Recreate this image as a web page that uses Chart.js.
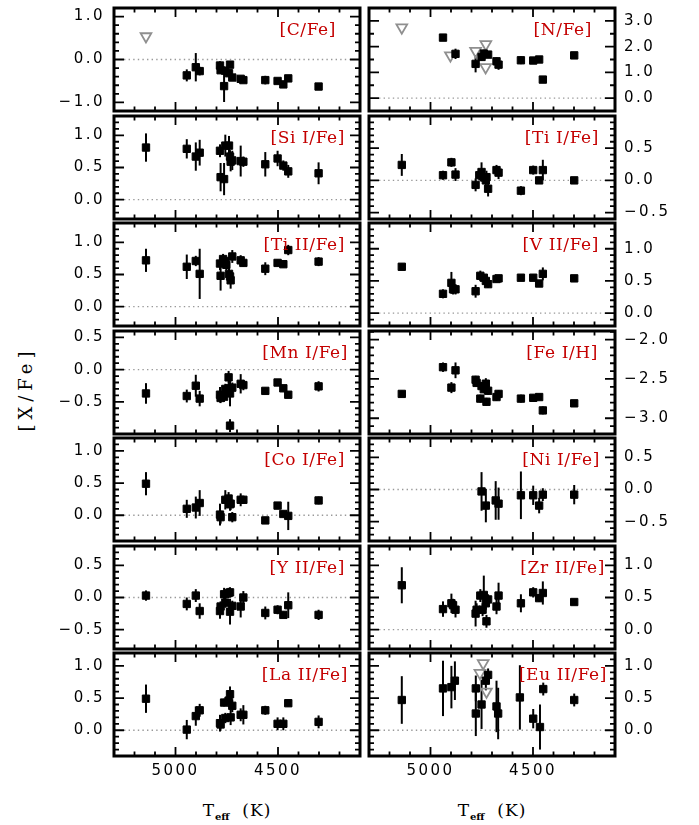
<!DOCTYPE html>
<html>
<head>
<meta charset="utf-8">
<script src="https://cdn.jsdelivr.net/npm/chart.js@4.4.1/dist/chart.umd.min.js"></script>
<style>
  html, body { margin: 0; padding: 0; background: #fff; }
  body { width: 699px; height: 825px; position: relative; overflow: hidden; }
  canvas { position: absolute; }
  .ytitle { position: absolute; left: 25px; top: 389px; transform: translate(-50%, -50%) rotate(-90deg);
            font: 18px "DejaVu Serif"; letter-spacing: 5px; white-space: nowrap; color: #000; }
  .xtitle { position: absolute; top: 800px; width: 200px; margin-left: -100px; text-align: center;
            font: 17px "DejaVu Serif"; line-height: 20px; letter-spacing: 1px; color: #000; white-space: nowrap; }
  .xtitle span { font-size: 10px; font-weight: bold; position: relative; top: 4px; letter-spacing: 0; }
</style>
</head>
<body>
<div class="ytitle">[X/Fe]</div>
<div class="xtitle" style="left:237px">T<span>eff</span>&nbsp; (K)</div>
<div class="xtitle" style="left:492px">T<span>eff</span>&nbsp; (K)</div>
<script>
// ---- data: [Teff, value, error]; limits: [Teff, value] ----
const xTicks = [5000, 4500];

const cFeTicks = [-1, 0, 1];
const cFeLim = [[5144, 0.54]];
const cFe = [
  [4945, -0.37, 0.14], [4901, -0.18, 0.33], [4882, -0.27, 0.10], [4783, -0.14, 0.10],
  [4780, -0.25, 0.08], [4758, -0.26, 0.08], [4763, -0.62, 0.37], [4739, -0.32, 0.08],
  [4734, -0.12, 0.08], [4723, -0.42, 0.08], [4682, -0.45, 0.06], [4669, -0.48, 0.05],
  [4562, -0.48, 0.10], [4502, -0.50, 0.05], [4474, -0.58, 0.05], [4450, -0.44, 0.05],
  [4302, -0.63, 0.07]
];

const nFeTicks = [0, 1, 2, 3];
const nFeLim = [[5140, 2.74], [4903, 1.66], [4780, 1.83], [4730, 2.09], [4731, 1.20]];
const nFe = [
  [4939, 2.35, 0.08], [4878, 1.72, 0.20], [4780, 1.33, 0.33], [4751, 1.60, 0.15],
  [4740, 1.73, 0.15], [4719, 1.69, 0.12], [4678, 1.43, 0.15], [4668, 1.30, 0.20],
  [4559, 1.47, 0.15], [4499, 1.46, 0.08], [4470, 1.50, 0.08], [4452, 0.72, 0.05],
  [4299, 1.66, 0.05]
];

const siFeTicks = [0, 0.5, 1];
const siFe = [
  [5144, 0.81, 0.22], [4945, 0.79, 0.15], [4901, 0.67, 0.22], [4882, 0.73, 0.20],
  [4783, 0.76, 0.10], [4780, 0.35, 0.22], [4763, 0.32, 0.25], [4757, 0.84, 0.17],
  [4739, 0.84, 0.15], [4734, 0.67, 0.10], [4731, 0.59, 0.15], [4723, 0.61, 0.15],
  [4682, 0.60, 0.24], [4669, 0.59, 0.08], [4562, 0.55, 0.19], [4502, 0.64, 0.12],
  [4474, 0.53, 0.08], [4450, 0.44, 0.10], [4302, 0.41, 0.17]
];

const tiIFeTicks = [-0.5, 0, 0.5];
const tiIFe = [
  [5140, 0.24, 0.17], [4939, 0.08, 0.07], [4898, 0.28, 0.07], [4878, 0.09, 0.10],
  [4780, -0.07, 0.10], [4762, 0.08, 0.08], [4751, 0.13, 0.15], [4740, 0.05, 0.10],
  [4730, 0.00, 0.10], [4727, 0.05, 0.10], [4719, -0.13, 0.12], [4678, 0.16, 0.08],
  [4668, 0.12, 0.10], [4559, -0.16, 0.07], [4499, 0.16, 0.07], [4470, 0.00, 0.05],
  [4452, 0.16, 0.16], [4299, 0.00, 0.04]
];

const tiIIFeTicks = [0, 0.5, 1];
const tiIIFe = [
  [5144, 0.72, 0.18], [4945, 0.62, 0.19], [4901, 0.71, 0.08], [4882, 0.51, 0.39],
  [4783, 0.67, 0.10], [4780, 0.48, 0.23], [4768, 0.74, 0.08], [4757, 0.71, 0.08],
  [4752, 0.65, 0.08], [4739, 0.51, 0.08], [4734, 0.47, 0.08], [4731, 0.41, 0.13],
  [4723, 0.78, 0.10], [4682, 0.72, 0.08], [4669, 0.68, 0.06], [4562, 0.59, 0.10],
  [4502, 0.68, 0.05], [4474, 0.66, 0.05], [4450, 0.88, 0.08], [4302, 0.70, 0.07]
];

const vFeTicks = [0, 0.5, 1];
const vFe = [
  [5140, 0.72, 0.05], [4939, 0.30, 0.07], [4898, 0.47, 0.17], [4890, 0.37, 0.08],
  [4878, 0.37, 0.08], [4780, 0.34, 0.10], [4757, 0.58, 0.08], [4740, 0.55, 0.06],
  [4730, 0.50, 0.06], [4719, 0.45, 0.06], [4678, 0.53, 0.05], [4668, 0.54, 0.05],
  [4559, 0.55, 0.05], [4499, 0.55, 0.05], [4470, 0.46, 0.05], [4452, 0.61, 0.10],
  [4299, 0.54, 0.04]
];

const mnFeTicks = [-0.5, 0, 0.5];
const mnFe = [
  [5144, -0.37, 0.16], [4945, -0.41, 0.10], [4901, -0.25, 0.17], [4882, -0.45, 0.12],
  [4783, -0.39, 0.12], [4780, -0.44, 0.08], [4763, -0.42, 0.08], [4757, -0.30, 0.08],
  [4741, -0.12, 0.10], [4739, -0.29, 0.08], [4734, -0.37, 0.20], [4734, -0.87, 0.10],
  [4723, -0.28, 0.08], [4682, -0.22, 0.15], [4669, -0.24, 0.08], [4562, -0.33, 0.05],
  [4502, -0.20, 0.04], [4474, -0.29, 0.04], [4450, -0.39, 0.04], [4302, -0.26, 0.08]
];

const feHTicks = [-3, -2.5, -2];
const feH = [
  [5140, -2.69, 0.04], [4939, -2.35, 0.06], [4898, -2.61, 0.07], [4878, -2.39, 0.10],
  [4780, -2.51, 0.05], [4775, -2.55, 0.05], [4757, -2.75, 0.05], [4751, -2.59, 0.05],
  [4740, -2.63, 0.05], [4730, -2.56, 0.07], [4727, -2.79, 0.05], [4719, -2.65, 0.05],
  [4678, -2.73, 0.05], [4668, -2.69, 0.05], [4559, -2.75, 0.05], [4499, -2.74, 0.04],
  [4470, -2.73, 0.04], [4452, -2.90, 0.05], [4299, -2.81, 0.03]
];

const coFeTicks = [0, 0.5, 1];
const coFe = [
  [5144, 0.49, 0.18], [4945, 0.10, 0.14], [4901, 0.12, 0.17], [4882, 0.19, 0.20],
  [4783, 0.01, 0.17], [4780, -0.03, 0.10], [4757, 0.24, 0.15], [4741, 0.26, 0.10],
  [4734, 0.17, 0.10], [4731, 0.18, 0.10], [4723, -0.03, 0.08], [4682, 0.24, 0.10],
  [4669, 0.24, 0.06], [4562, -0.08, 0.05], [4502, 0.15, 0.05], [4474, 0.02, 0.05],
  [4450, -0.01, 0.22], [4302, 0.23, 0.06]
];

const niFeTicks = [-0.5, 0, 0.5];
const niFe = [
  [4751, -0.03, 0.30], [4730, -0.25, 0.26], [4682, -0.17, 0.30], [4668, -0.22, 0.25],
  [4559, -0.09, 0.37], [4499, -0.09, 0.15], [4470, -0.25, 0.12], [4452, -0.08, 0.10],
  [4299, -0.08, 0.15]
];

const yFeTicks = [-0.5, 0, 0.5];
const yFe = [
  [5144, 0.03, 0.08], [4945, -0.10, 0.10], [4901, 0.03, 0.10], [4882, -0.21, 0.12],
  [4783, -0.21, 0.12], [4780, -0.14, 0.08], [4763, 0.05, 0.10], [4757, -0.08, 0.08],
  [4741, 0.07, 0.08], [4734, 0.08, 0.08], [4734, -0.22, 0.20], [4723, -0.13, 0.08],
  [4682, -0.14, 0.17], [4669, 0.00, 0.10], [4562, -0.24, 0.10], [4502, -0.19, 0.07],
  [4474, -0.27, 0.05], [4450, -0.12, 0.20], [4302, -0.27, 0.08]
];

const zrFeTicks = [0, 0.5, 1];
const zrFe = [
  [5140, 0.69, 0.28], [4939, 0.32, 0.12], [4898, 0.41, 0.15], [4890, 0.38, 0.10],
  [4878, 0.31, 0.12], [4780, 0.25, 0.20], [4775, 0.31, 0.10], [4757, 0.53, 0.10],
  [4746, 0.31, 0.10], [4740, 0.54, 0.30], [4730, 0.41, 0.10], [4727, 0.13, 0.10],
  [4719, 0.47, 0.08], [4678, 0.36, 0.12], [4668, 0.53, 0.20], [4559, 0.41, 0.14],
  [4499, 0.58, 0.08], [4470, 0.49, 0.06], [4452, 0.57, 0.18], [4299, 0.43, 0.04]
];

const laFeTicks = [0, 0.5, 1];
const laFe = [
  [5144, 0.49, 0.22], [4945, 0.01, 0.15], [4901, 0.22, 0.15], [4882, 0.31, 0.10],
  [4783, 0.11, 0.13], [4780, 0.09, 0.08], [4763, 0.43, 0.06], [4757, 0.19, 0.08],
  [4741, 0.46, 0.10], [4734, 0.56, 0.12], [4731, 0.20, 0.12], [4723, 0.38, 0.10],
  [4682, 0.24, 0.10], [4669, 0.24, 0.15], [4562, 0.31, 0.07], [4502, 0.10, 0.10],
  [4474, 0.10, 0.10], [4450, 0.42, 0.05], [4302, 0.13, 0.10]
];

const euFeTicks = [0, 0.5, 1];
const euFeLim = [[4743, 1.04], [4759, 0.89], [4727, 0.60]];
const euFe = [
  [5140, 0.47, 0.37], [4939, 0.65, 0.43], [4898, 0.67, 0.33], [4881, 0.77, 0.30],
  [4779, 0.65, 0.20], [4779, 0.26, 0.35], [4751, 0.40, 0.38], [4730, 0.77, 0.15],
  [4719, 0.86, 0.10], [4678, 0.37, 0.40], [4670, 0.26, 0.40], [4564, 0.51, 0.50],
  [4499, 0.18, 0.15], [4466, 0.05, 0.35], [4450, 0.64, 0.10], [4299, 0.47, 0.10]
];

// ---- panel layout ----
const panels = [
  { label: '[C/Fe]',     col: 0, row: 0, min: -1.2, max: 1.2,  ticks: cFeTicks,   minor: 0.2, pts: cFe,   lim: cFeLim, inset: 24 },
  { label: '[N/Fe]',     col: 1, row: 0, min: -0.5, max: 3.5,  ticks: nFeTicks,   minor: 0.5, pts: nFe,   lim: nFeLim, inset: 23 },
  { label: '[Si I/Fe]',  col: 0, row: 1, min: -0.3, max: 1.3,  ticks: siFeTicks,  minor: 0.1, pts: siFe,  inset: 15 },
  { label: '[Ti I/Fe]',  col: 1, row: 1, min: -0.6, max: 1.0,  ticks: tiIFeTicks, minor: 0.1, pts: tiIFe, inset: 16 },
  { label: '[Ti II/Fe]', col: 0, row: 2, min: -0.3, max: 1.3,  ticks: tiIIFeTicks, minor: 0.1, pts: tiIIFe, inset: 15 },
  { label: '[V II/Fe]',  col: 1, row: 2, min: -0.2, max: 1.4,  ticks: vFeTicks,   minor: 0.1, pts: vFe,   inset: 16 },
  { label: '[Mn I/Fe]',  col: 0, row: 3, min: -1.0, max: 0.6,  ticks: mnFeTicks,  minor: 0.1, pts: mnFe,  inset: 12 },
  { label: '[Fe I/H]',   col: 1, row: 3, min: -3.2, max: -1.89, ticks: feHTicks,  minor: 0.1, pts: feH,   inset: 17 },
  { label: '[Co I/Fe]',  col: 0, row: 4, min: -0.4, max: 1.2,  ticks: coFeTicks,  minor: 0.1, pts: coFe,  inset: 15 },
  { label: '[Ni I/Fe]',  col: 1, row: 4, min: -0.8, max: 0.8,  ticks: niFeTicks,  minor: 0.1, pts: niFe,  inset: 15 },
  { label: '[Y II/Fe]',  col: 0, row: 5, min: -0.8, max: 0.8,  ticks: yFeTicks,   minor: 0.1, pts: yFe,   inset: 15 },
  { label: '[Zr II/Fe]', col: 1, row: 5, min: -0.3, max: 1.3,  ticks: zrFeTicks,  minor: 0.1, pts: zrFe,  inset: 10 },
  { label: '[La II/Fe]', col: 0, row: 6, min: -0.4, max: 1.2,  ticks: laFeTicks,  minor: 0.1, pts: laFe,  inset: 12 },
  { label: '[Eu II/Fe]', col: 1, row: 6, min: -0.4, max: 1.2,  ticks: euFeTicks,  minor: 0.1, pts: euFe,  lim: euFeLim, inset: 8 }
];

const ROW_TOPS = [8, 116, 223, 331, 438, 546, 653];
const PANEL_H = 103;
const PAD = 24;
const X_AXIS_H = 40;

const fmt = v => (v < -1e-9 ? '\u2212' : '') + Math.abs(v).toFixed(1);

// frame, inward ticks, zero line, error bars, panel label
const panelPlugin = {
  id: 'panel',
  beforeDraw(chart) { chart.ctx.letterSpacing = '2.5px'; },
  beforeDatasetsDraw(chart, args, o) {
    const { ctx, chartArea: a, scales: { x, y } } = chart;
    ctx.save();
    ctx.beginPath();
    ctx.rect(a.left, a.top, a.right - a.left, a.bottom - a.top);
    ctx.clip();
    if (o.min < 0 && o.max > 0) {
      const py = y.getPixelForValue(0);
      ctx.strokeStyle = '#999';
      ctx.lineWidth = 1.3;
      ctx.setLineDash([1.4, 3.2]);
      ctx.beginPath();
      ctx.moveTo(a.left + 10, py);
      ctx.lineTo(a.right - 10, py);
      ctx.stroke();
      ctx.setLineDash([]);
    }
    ctx.strokeStyle = '#000';
    ctx.lineWidth = 2;
    chart.data.datasets[0].data.forEach(p => {
      const px = x.getPixelForValue(p.x);
      ctx.beginPath();
      ctx.moveTo(px, y.getPixelForValue(p.y - p.e));
      ctx.lineTo(px, y.getPixelForValue(p.y + p.e));
      ctx.stroke();
    });
    ctx.restore();
  },
  afterDraw(chart, args, o) {
    const { ctx, chartArea: a, scales: { x, y } } = chart;
    ctx.save();
    ctx.letterSpacing = '0px';
    ctx.strokeStyle = '#000';
    ctx.lineWidth = 1.8;
    ctx.beginPath();
    for (let t = 4200; t <= 5200; t += 100) {
      const px = x.getPixelForValue(t);
      const len = t % 500 === 0 ? 9 : 4.5;
      ctx.moveTo(px, a.top); ctx.lineTo(px, a.top + len);
      ctx.moveTo(px, a.bottom); ctx.lineTo(px, a.bottom - len);
    }
    const n0 = Math.ceil(o.min / o.minor - 1e-6), n1 = Math.floor(o.max / o.minor + 1e-6);
    for (let n = n0; n <= n1; n++) {
      const v = n * o.minor;
      const py = y.getPixelForValue(v);
      const major = o.ticks.some(t => Math.abs(t - v) < 1e-6);
      const len = major ? 10 : 5;
      ctx.moveTo(a.left, py); ctx.lineTo(a.left + len, py);
      ctx.moveTo(a.right, py); ctx.lineTo(a.right - len, py);
    }
    ctx.stroke();
    ctx.lineWidth = 3;
    ctx.strokeRect(a.left, a.top, a.right - a.left, a.bottom - a.top);
    ctx.fillStyle = '#c40000';
    ctx.font = '17px "DejaVu Serif"';
    ctx.letterSpacing = '0.6px';
    ctx.textAlign = 'right';
    ctx.textBaseline = 'alphabetic';
    ctx.fillText(o.label, a.right - o.inset, a.top + 27);
    ctx.restore();
  }
};

const tickFont = { family: 'DejaVu Sans', size: 15 };

panels.forEach(p => {
  const bottomRow = p.row === 6;
  const left = p.col === 0;
  const cv = document.createElement('canvas');
  const w = left ? 372 : 340;
  const h = PAD + PANEL_H + (bottomRow ? X_AXIS_H : PAD);
  cv.width = w; cv.height = h;
  cv.style.left = (left ? 0 : 359) + 'px';
  cv.style.top = (ROW_TOPS[p.row] - PAD) + 'px';
  cv.style.width = w + 'px'; cv.style.height = h + 'px';
  document.body.appendChild(cv);

  new Chart(cv, {
    type: 'scatter',
    data: {
      datasets: [
        {
          data: p.pts.map(d => ({ x: d[0], y: d[1], e: d[2] })),
          pointStyle: 'rect', radius: 5.2, borderWidth: 1,
          backgroundColor: '#000', borderColor: '#000'
        },
        {
          data: (p.lim || []).map(d => ({ x: d[0], y: d[1] })),
          pointStyle: 'triangle', rotation: 180, radius: 6.2, borderWidth: 1.8,
          backgroundColor: 'rgba(255,255,255,0)', borderColor: '#8f8f8f'
        }
      ]
    },
    options: {
      responsive: false,
      animation: false,
      events: [],
      layout: { padding: { top: PAD, bottom: bottomRow ? 0 : PAD, left: left ? 0 : 10, right: left ? 12 : 0 } },
      plugins: {
        legend: { display: false },
        tooltip: { enabled: false },
        panel: { label: p.label, ticks: p.ticks, minor: p.minor, min: p.min, max: p.max, inset: p.inset }
      },
      scales: {
        x: {
          type: 'linear', min: 4100, max: 5300, reverse: true,
          display: bottomRow,
          grid: { display: false, drawTicks: false },
          border: { display: false },
          afterBuildTicks: s => { s.ticks = xTicks.map(v => ({ value: v })); },
          afterFit: s => { s.height = bottomRow ? X_AXIS_H : 0; },
          ticks: { font: tickFont, color: '#000', padding: 6, autoSkip: false, maxRotation: 0, callback: v => String(v) }
        },
        y: {
          type: 'linear', min: p.min, max: p.max,
          position: left ? 'left' : 'right',
          grid: { display: false, drawTicks: false },
          border: { display: false },
          afterBuildTicks: s => { s.ticks = p.ticks.map(v => ({ value: v })); },
          afterFit: s => { s.width = left ? 114 : 84; },
          ticks: { font: tickFont, color: '#000', padding: 9, autoSkip: false, callback: v => fmt(v) }
        }
      }
    },
    plugins: [panelPlugin]
  });
});
</script>
</body>
</html>
